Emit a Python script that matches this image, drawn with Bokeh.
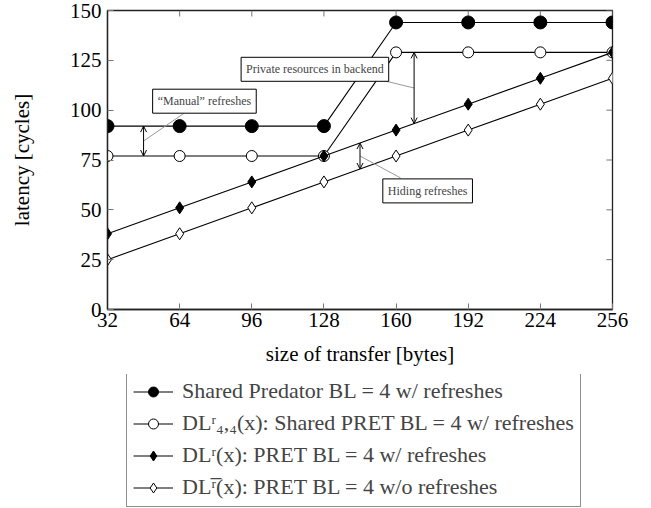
from bokeh.plotting import figure
from bokeh.models import (Range1d, FixedTicker, Legend, LegendItem,
                          Label, Arrow, OpenHead)
from bokeh.embed import file_html
from bokeh.resources import INLINE

# ---- data ----
sizes = [32, 64, 96, 128, 160, 192, 224, 256]
shared_predator = [92, 92, 92, 92, 144, 144, 144, 144]
shared_pret = [77, 77, 77, 77, 129, 129, 129, 129]
pret_refresh = [38, 51, 64, 77, 90, 103, 116, 129]
pret_norefresh = [25, 38, 51, 64, 77, 90, 103, 116]
x_ticks = [32, 64, 96, 128, 160, 192, 224, 256]
y_ticks = [0, 25, 50, 75, 100, 125, 150]

labels = [
    "Shared Predator BL = 4 w/ refreshes",
    "DL\u02b3\u2084,\u2084(x): Shared PRET BL = 4 w/ refreshes",
    "DL\u02b3(x): PRET BL = 4 w/ refreshes",
    "DL\u02b3\u0305(x): PRET BL = 4 w/o refreshes",
]

# annotations (data coordinates)
ann_arrow_x = [48, 168, 144]
ann_top = [92, 129, 83.5]
ann_bottom = [77, 93.25, 70.5]
ann_text = ["\u201cManual\u201d refreshes", "Private resources in backend", "Hiding refreshes"]
ann_box_x = [75, 124, 174]
ann_box_y = [104.5, 120.5, 59.5]
ann_lead_x = [66, 152, 162]
ann_lead_y = [98.5, 115.5, 66]

SERIF = "Liberation Serif"
XMIN, XMAX, YMIN, YMAX = 32, 256, 0, 150

p = figure(width=651, height=374, output_backend="svg", toolbar_location=None,
           x_range=Range1d(XMIN, XMAX), y_range=Range1d(YMIN, YMAX),
           min_border_left=107, min_border_right=39, min_border_top=10,
           min_border_bottom=65)
p.grid.visible = False
p.outline_line_color = "#222222"
p.outline_line_width = 1.3

for ax in (p.xaxis[0], p.yaxis[0]):
    ax.major_tick_in = 6
    ax.major_tick_out = 0
    ax.minor_tick_line_color = None
    ax.major_tick_line_color = "#777777"
    ax.axis_line_color = "#222222"
    ax.axis_line_width = 1.3
    ax.major_label_text_font = SERIF
    ax.major_label_text_font_size = "21px"
    ax.major_label_text_color = "black"
    ax.axis_label_text_font = SERIF
    ax.axis_label_text_font_size = "21px"
    ax.axis_label_text_font_style = "normal"
    ax.axis_label_text_color = "black"

p.xaxis[0].ticker = FixedTicker(ticks=x_ticks)
p.yaxis[0].ticker = FixedTicker(ticks=y_ticks)
p.xaxis[0].axis_label = "size of transfer [bytes]"
p.yaxis[0].axis_label = "latency [cycles]"
p.xaxis[0].major_label_standoff = 3
p.yaxis[0].major_label_standoff = 6
p.xaxis[0].axis_label_standoff = 12
p.yaxis[0].axis_label_standoff = 33

# mirrored inward ticks on top and right edges
p.segment(x0=x_ticks, x1=x_ticks, y0=[YMAX] * len(x_ticks), y1=[YMAX - 3] * len(x_ticks),
          line_color="#777777", line_width=1)
p.segment(x0=[XMAX] * len(y_ticks), x1=[XMAX - 2.7] * len(y_ticks), y0=y_ticks, y1=y_ticks,
          line_color="#777777", line_width=1)

series = [
    (shared_predator, "circle", "black", 13),
    (shared_pret, "circle", "white", 11),
    (pret_refresh, "diamond", "black", 12),
    (pret_norefresh, "diamond", "white", 12),
]

for ys, marker, fill, size in series:
    p.line(sizes, ys, line_color="black", line_width=1.1)
    p.scatter(sizes, ys, marker=marker, size=size, fill_color=fill,
              line_color="black", line_width=1)

# annotations
for i in range(3):
    p.line([ann_arrow_x[i], ann_lead_x[i]],
           [(ann_top[i] + ann_bottom[i]) / 2, ann_lead_y[i]],
           line_color="#999999", line_width=1)
    p.add_layout(Arrow(x_start=ann_arrow_x[i], y_start=ann_top[i],
                       x_end=ann_arrow_x[i], y_end=ann_bottom[i],
                       start=OpenHead(size=6, line_width=1),
                       end=OpenHead(size=6, line_width=1),
                       line_width=1, line_color="black"))
    p.add_layout(Label(x=ann_box_x[i], y=ann_box_y[i], text=ann_text[i],
                       text_font=SERIF, text_font_size="12px",
                       text_align="center", text_baseline="middle",
                       border_line_color="black", border_line_width=1,
                       background_fill_color="white", padding=5))

# legend figure (separate root so its frame is not aligned with the chart)
lg = figure(width=651, height=134, output_backend="svg", toolbar_location=None,
            x_range=Range1d(0, 1), y_range=Range1d(0, 1),
            min_border=0, outline_line_color=None)
lg.axis.visible = False
lg.grid.visible = False
items = []
for (ys, marker, fill, size), lab in zip(series, labels):
    l = lg.line([-5, -4], [-5, -4], line_color="black", line_width=1.1)
    s = lg.scatter([-5], [-5], marker=marker, size=max(size - 3, 8), fill_color=fill,
                   line_color="black", line_width=1)
    items.append(LegendItem(label=lab, renderers=[l, s]))

legend = Legend(items=items, location=(126, 1), orientation="vertical",
                label_text_font=SERIF, label_text_font_size="22px",
                label_height=25, glyph_width=40, glyph_height=25,
                label_standoff=9, spacing=6, padding=6, margin=0,
                border_line_color="#222222", border_line_width=1.3)
lg.add_layout(legend, "center")

open("out.html", "w").write(file_html([p, lg], INLINE))
